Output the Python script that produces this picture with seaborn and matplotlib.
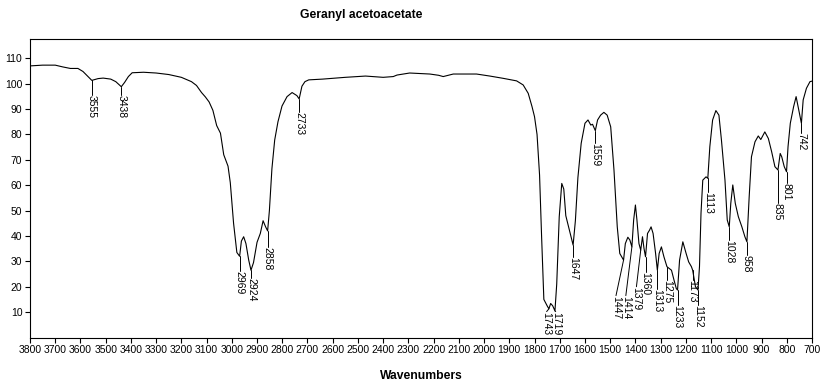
import numpy as np
import pandas as pd
import matplotlib
matplotlib.use("Agg")
import matplotlib.pyplot as plt
import seaborn as sns

# ---- data ----
wavenumber = [3800, 3750, 3700, 3670, 3640, 3610, 3590, 3570, 3555, 3530, 3510, 3480, 3460, 3438,
              3425, 3410, 3395, 3350, 3300, 3250, 3200, 3160, 3140, 3120, 3105, 3090, 3075, 3060,
              3045, 3032, 3015, 3006, 2993, 2980, 2969, 2962, 2953, 2944, 2933, 2924, 2914, 2900,
              2887, 2876, 2866, 2858, 2851, 2841, 2830, 2817, 2801, 2781, 2761, 2742, 2733, 2722,
              2710, 2695, 2640, 2600, 2550, 2470, 2400, 2360, 2345, 2295, 2215, 2180, 2162, 2122,
              2030, 1977, 1924, 1871, 1845, 1825, 1810, 1800, 1790, 1780, 1772, 1763, 1750, 1743,
              1736, 1728, 1719, 1712, 1702, 1692, 1684, 1676, 1665, 1647, 1638, 1628, 1615, 1600,
              1588, 1577, 1570, 1559, 1550, 1538, 1525, 1512, 1498, 1485, 1472, 1462, 1447, 1440,
              1430, 1422, 1414, 1407, 1400, 1394, 1386, 1379, 1372, 1366, 1360, 1352, 1344, 1338,
              1330, 1320, 1313, 1306, 1297, 1287, 1275, 1266, 1257, 1247, 1238, 1233, 1225, 1212,
              1199, 1189, 1178, 1173, 1162, 1152, 1146, 1140, 1133, 1120, 1113, 1105, 1094, 1081,
              1069, 1059, 1045, 1036, 1028, 1022, 1014, 1004, 992, 978, 966, 958, 949, 940, 926,
              913, 903, 887, 873, 860, 847, 835, 826, 820, 810, 801, 795, 786, 773, 763, 755, 742,
              735, 722, 708, 700]
transmittance = [107.0, 107.3, 107.3, 106.6, 106.0, 106.0, 104.8, 102.8, 101.3, 102.0, 102.2, 101.8,
                 100.8, 98.8, 100.5, 102.8, 104.3, 104.5, 104.2, 103.6, 102.5, 100.8, 99.3, 96.5,
                 94.8, 92.8, 89.5, 83.5, 80.5, 72.0, 67.5, 61.0, 45.0, 33.5, 32.0, 38.0, 39.7, 37.0,
                 30.5, 26.5, 29.5, 37.5, 41.0, 46.0, 43.6, 42.0, 50.0, 66.5, 77.8, 85.0, 91.2, 94.9,
                 96.5, 95.3, 94.0, 99.0, 100.8, 101.5, 101.8, 102.1, 102.5, 103.0, 102.5, 102.8,
                 103.4, 104.2, 103.8, 103.3, 102.8, 103.8, 103.8, 103.0, 102.1, 101.1, 99.5, 96.2,
                 91.0, 87.0, 80.0, 64.0, 40.0, 15.0, 12.5, 11.3, 13.4, 12.5, 10.5, 21.0, 47.6, 60.7,
                 58.5, 48.0, 43.6, 36.4, 46.0, 63.0, 76.5, 84.4, 85.7, 83.7, 84.0, 81.5, 85.7, 87.6,
                 88.7, 87.6, 83.0, 66.0, 43.6, 33.1, 30.5, 37.0, 39.5, 38.4, 35.7, 46.3, 52.2, 46.3,
                 37.0, 34.4, 39.7, 35.1, 31.8, 41.0, 42.3, 43.6, 41.0, 33.1, 26.5, 33.1, 35.7, 31.8,
                 27.9, 27.2, 26.5, 22.6, 19.3, 18.7, 30.5, 37.7, 33.1, 29.8, 27.9, 26.5, 20.0, 18.7,
                 28.0, 49.0, 62.0, 63.3, 62.7, 75.2, 85.7, 89.4, 87.6, 77.8, 62.0, 46.3, 43.6, 52.8,
                 60.1, 52.8, 47.6, 43.6, 39.7, 37.7, 55.5, 71.2, 77.1, 79.4, 78.0, 81.0, 78.4, 73.2,
                 67.3, 66.0, 72.5, 71.2, 67.3, 65.3, 75.2, 84.4, 90.9, 94.9, 90.9, 84.4, 93.6, 98.2,
                 100.8, 101.0]

peak_wn = [3555, 3438, 2969, 2924, 2858, 2733, 1743, 1719, 1647, 1559, 1447, 1414, 1379, 1360,
           1313, 1275, 1233, 1173, 1152, 1113, 1028, 958, 835, 801, 742]
peak_labels = [str(p) for p in peak_wn]
label_wn = [3555, 3438, 2969, 2924, 2858, 2733, 1752, 1716, 1647, 1559, 1477, 1438, 1396, 1360,
            1313, 1275, 1233, 1173, 1152, 1113, 1028, 958, 835, 801, 742]
label_y = [95.6, 95.6, 26.3, 23.3, 35.7, 89.0, 10.2, 10.2, 31.8, 76.5, 16.5, 16.5, 20.0, 26.0,
           19.3, 22.6, 12.8, 22.6, 12.8, 57.4, 38.4, 32.5, 52.8, 60.7, 80.4]

x_ticks = list(range(3800, 699, -100))
y_ticks = list(range(10, 111, 10))

title = "Geranyl acetoacetate"
xlabel = "Wavenumbers"

# ---- plotting ----
sns.set_theme(style="ticks")
small_font = ["Liberation Sans Narrow", "Liberation Sans", "DejaVu Sans"]
plt.rcParams["font.family"] = ["Liberation Sans", "DejaVu Sans"]

df = pd.DataFrame({"wn": wavenumber, "T": transmittance})

fig = plt.figure(figsize=(8.28, 3.83), dpi=100)
ax = fig.add_axes([30 / 828, 1 - 337.5 / 383, 782 / 828, 298.5 / 383])
sns.lineplot(data=df, x="wn", y="T", ax=ax, color="black", linewidth=0.8,
             sort=False, estimator=None)

ax.set_xlim(3800, 700)
ax.set_ylim(0, 117.6)
ax.set_xticks(x_ticks)
ax.set_yticks(y_ticks)
ax.set_xticklabels([str(t) for t in x_ticks], fontsize=7.5, family=small_font)
ax.set_yticklabels([str(t) for t in y_ticks], fontsize=7.5, family=small_font)
ax.tick_params(direction="out", length=3.5, width=0.8, color="black", pad=2, labelcolor="black")
for s in ax.spines.values():
    s.set_color("black")
    s.set_linewidth(0.8)
ax.set_xlabel("")
ax.set_ylabel("")

for pw, lw, ly, lab in zip(peak_wn, label_wn, label_y, peak_labels):
    top = float(np.interp(pw, wavenumber[::-1], transmittance[::-1]))
    if top > ly:
        ax.plot([pw, lw], [top, ly], color="black", linewidth=0.7)
    ax.text(lw, ly, lab, rotation=270, ha="center", va="top", fontsize=7.5,
            family=small_font, color="black")

fig.text(361 / 828, 1 - 15 / 383, title, ha="center", va="center", fontsize=8.7,
         fontweight="bold", color="black")
fig.text(421 / 828, 1 - 376 / 383, xlabel, ha="center", va="center", fontsize=8.7,
         fontweight="bold", color="black")

fig.savefig("out.png", dpi=100, facecolor="white")
